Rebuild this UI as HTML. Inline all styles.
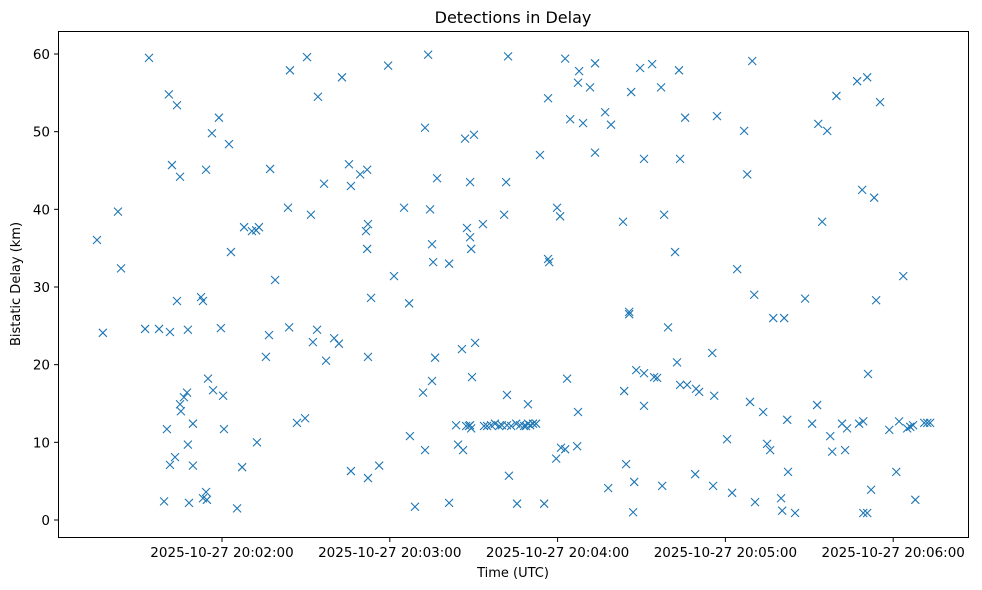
<!DOCTYPE html>
<html><head><meta charset="utf-8"><style>
body{margin:0;background:#fff;}
svg{display:block;font-family:"DejaVu Sans","Liberation Sans",sans-serif;}
</style></head><body>
<svg id="chart" width="982" height="590" xmlns="http://www.w3.org/2000/svg">
<rect width="982" height="590" fill="#fff"/>
<text x="513" y="23" text-anchor="middle" font-size="16" fill="#000">Detections in Delay</text>
<text x="513" y="577" text-anchor="middle" font-size="13" fill="#000">Time (UTC)</text>
<text transform="translate(20,284) rotate(-90)" text-anchor="middle" font-size="13" fill="#000">Bistatic Delay (km)</text>
<g id="ticks"></g>
<g id="marks"></g>
<rect x="58.5" y="31.5" width="910" height="506" fill="none" stroke="#000" stroke-width="1"/>
</svg>
<script>
// seconds after 20:00:00
const times = [75.3,77.4,82.8,83.9,92.5,93.9,97.5,99.3,100.3,101,101.4,101.4,102.1,103.2,103.9,103.9,105,105,105.3,106.4,107.5,107.8,107.8,108.2,109.6,109.6,112.5,113.2,113.2,114.3,114.3,114.6,115,116.4,116.8,118.9,119.6,120.4,120.7,122.5,123.2,125.4,127.2,127.9,130.7,132.2,132.5,133.2,135.7,136.8,137.2,139,143.6,144,144.3,146.8,149.7,150.4,151.8,152.5,154,154.3,156.5,157.2,160.1,161.8,162.9,165.4,166.1,166.1,169.4,171.5,171.9,171.9,172.2,172.2,172.2,173.3,176.2,179.4,181.5,185.1,186.9,187.2,189,191.9,192.6,192.6,193.7,194.4,195.1,195.1,195.5,196.2,196.9,201.2,201.2,203.7,204.4,205.8,206.2,206.9,207.3,207.6,208.3,208.7,208.7,208.7,209.1,209.1,209.4,210.1,210.5,213.3,213.7,214.8,216.2,217.6,219.1,220.1,220.9,221.6,221.9,221.9,222.3,222.6,223.4,225.2,225.5,226.6,228,228.7,229.4,229.4,230.2,231.2,232.3,233.7,235.2,236.6,236.6,237,239.5,239.8,240.9,241.2,242.7,242.7,243.4,244.5,247,247.3,247.3,247.7,249.1,251.6,253.4,253.4,257,258.1,259.1,263.4,263.8,264.5,265.6,265.6,266.3,267,267.4,268.1,269.5,270.9,270.9,270.9,273.8,274.5,275.6,277,277.4,278.1,279.5,282,282.7,283.4,283.8,283.8,285.6,286.3,289.2,289.5,290.6,295.3,295.6,296,297,300.6,302.4,304.2,306.7,307.8,308.8,309.6,310.3,310.6,313.5,314.9,316,317.1,319.9,320.3,321,322.1,322.4,324.9,328.5,331,332.8,333.2,334.6,336.4,337.5,338.2,339.7,341.7,342.8,343.5,347.1,347.8,348.9,349.3,349.3,350.7,350.7,351,352.1,353.2,353.9,355.3,358.6,361.1,362.1,363.6,365,366.1,367.1,367.9,371.1,372.2,373.2];
const delays = [36.05,24.1,39.7,32.4,24.6,59.5,24.6,2.4,11.7,54.8,7.1,24.2,45.7,8.1,53.4,28.2,44.2,14.9,14.0,15.8,16.4,24.5,9.7,2.2,12.4,7.0,28.7,28.2,2.8,3.6,45.1,2.6,18.2,49.8,16.7,51.8,24.7,16.0,11.7,48.4,34.5,1.5,6.8,37.7,37.2,37.3,10.0,37.7,21.0,23.8,45.2,30.9,40.2,24.8,57.9,12.5,13.1,59.6,39.3,22.9,24.5,54.5,43.3,20.5,23.4,22.7,57.0,45.8,43.0,6.3,44.5,37.2,45.1,34.9,21.0,5.4,38.1,28.6,7.0,58.5,31.4,40.2,27.9,10.8,1.7,16.4,9.0,50.5,59.9,40.0,35.5,17.9,33.2,20.9,44.0,33.0,2.2,12.2,9.7,22.0,9.0,49.1,12.1,37.6,12.1,36.4,12.2,43.5,11.8,34.9,18.4,49.6,22.8,38.1,12.1,12.1,12.2,12.4,12.1,12.2,39.3,43.5,12.2,16.1,59.7,5.7,12.1,12.4,2.1,12.2,12.1,12.1,14.9,12.4,12.2,12.4,12.4,47.0,2.1,54.3,33.6,33.2,7.9,40.2,39.1,9.3,9.1,59.4,18.2,51.6,9.5,13.9,56.3,57.8,51.1,55.7,58.8,47.3,52.5,4.1,50.9,38.4,16.6,7.2,26.8,26.5,55.1,1.0,4.9,19.3,58.2,14.7,46.5,18.9,58.7,18.4,18.3,55.7,4.4,39.3,24.8,34.5,20.3,57.9,46.5,17.4,51.8,17.4,5.9,16.9,16.5,21.5,4.4,16.0,52.0,10.4,3.5,32.3,50.1,44.5,15.2,59.1,29.0,2.3,13.9,9.8,9.0,26.0,2.8,1.2,26.0,12.9,6.2,0.9,28.5,12.4,14.8,51.0,38.4,50.1,10.8,8.8,54.6,12.4,9.0,11.8,56.5,12.4,42.5,12.7,0.9,0.9,57.0,18.8,3.9,41.5,28.3,53.8,11.6,6.2,12.7,31.4,11.8,12.0,12.2,2.6,12.5,12.5,12.5];
const xTickValues = [120,180,240,300,360];
const xTickLabels = ["2025-10-27 20:02:00","2025-10-27 20:03:00","2025-10-27 20:04:00","2025-10-27 20:05:00","2025-10-27 20:06:00"];
const yTickValues = [0,10,20,30,40,50,60];

const NS="http://www.w3.org/2000/svg";
function xScale(t){return 222+(t-120)*167.8/60;}
function yScale(v){return 520-v*466/60;}
const ticks=document.getElementById('ticks');
const marks=document.getElementById('marks');
function mk(tag,attrs,parent){const e=document.createElementNS(NS,tag);for(const k in attrs)e.setAttribute(k,attrs[k]);parent.appendChild(e);return e;}
xTickValues.forEach((v,i)=>{
  const x=xScale(v);
  const l=mk('line',{x1:x,x2:x,y1:537.5,y2:542,stroke:'#000'},ticks);
  
  
  const t=mk('text',{x:x,y:557,'text-anchor':'middle','font-size':'13.5',fill:'#000'},ticks);
  t.textContent=xTickLabels[i];
  
  
});
yTickValues.forEach(v=>{
  const y=yScale(v);
  const l=mk('line',{x1:54,x2:58.5,y1:y,y2:y,stroke:'#000'},ticks);
  
  
  const t=mk('text',{x:50,y:y+5,'text-anchor':'end','font-size':'13.5',fill:'#000'},ticks);
  t.textContent=String(v);
  
  
});
times.forEach((tv,i)=>{
  const x=xScale(tv),y=yScale(delays[i]),s=4;
  const p=mk('path',{d:`M${x-s},${y-s}L${x+s},${y+s}M${x-s},${y+s}L${x+s},${y-s}`,stroke:'#1f77b4','stroke-width':'1.1',fill:'none'},marks);
  
  
});
</script>
</body></html>
